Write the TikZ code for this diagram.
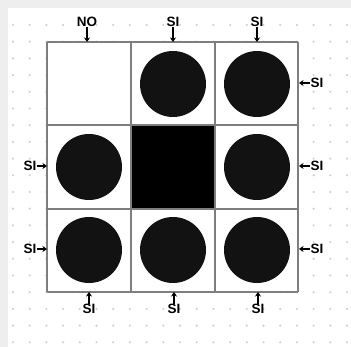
\documentclass[tikz,border=0pt]{standalone}
\usepackage{fontspec}
\setsansfont{Liberation Sans}
\usetikzlibrary{arrows.meta}
\definecolor{bggray}{HTML}{EEEEEE}
\definecolor{dotgray}{HTML}{D0D0D0}
\definecolor{linegray}{HTML}{7E7E7E}
\tikzset{
  lbl/.style={font=\sffamily\bfseries\fontsize{13.5}{13.5}\selectfont, inner sep=0.5pt},
  ptr/.style={-{Stealth[length=4.5pt,width=6pt]}, line width=1.5pt},
  cellline/.style={draw=linegray, line width=1.8pt},
  ball/.style={fill=black!93}
}
\begin{document}
\begin{tikzpicture}[x=1pt,y=-1pt]
    \useasboundingbox (0,0) rectangle (351,347);
    % background and dotted paper
    \fill[bggray] (0,0) rectangle (351,347);
    \fill[white] (8,8) rectangle (351,347);
    \foreach \i in {0,...,20}
      \foreach \j in {0,...,19}
        \fill[dotgray] (13+16.7*\i,25+16.7*\j) circle (1.2pt);
    % grid of cells
    \fill[white] (47,42) rectangle (298,292);
    \fill[black] (131,125) rectangle (215,209);
    \foreach \x in {47,131,215,298}
      \draw[cellline] (\x,42) -- (\x,292);
    \foreach \y in {42,125,209,292}
      \draw[cellline] (47,\y) -- (298,\y);
    % balls in the outer cells
    \foreach \cx/\cy in {173/84, 257/84, 89/167, 257/167, 89/250, 173/250, 257/250}
      \fill[ball] (\cx,\cy) circle (33);
    % top labels
    \node[lbl] (nTopA) at (87,22) {NO};
    \node[lbl] (nTopB) at (173,22) {SI};
    \node[lbl] (nTopC) at (257,22) {SI};
    \coordinate (eTopA) at (87,42);
    \coordinate (eTopB) at (173,42);
    \coordinate (eTopC) at (257,42);
    \draw[ptr] (nTopA) -- (eTopA);
    \draw[ptr] (nTopB) -- (eTopB);
    \draw[ptr] (nTopC) -- (eTopC);
    % right labels
    \node[lbl] (nRightA) at (317,83) {SI};
    \node[lbl] (nRightB) at (317,166) {SI};
    \node[lbl] (nRightC) at (317,249) {SI};
    \coordinate (eRightA) at (299,83);
    \coordinate (eRightB) at (299,166);
    \coordinate (eRightC) at (299,249);
    \draw[ptr] (nRightA) -- (eRightA);
    \draw[ptr] (nRightB) -- (eRightB);
    \draw[ptr] (nRightC) -- (eRightC);
    % left labels
    \node[lbl] (nLeftB) at (30,166) {SI};
    \node[lbl] (nLeftC) at (30,249) {SI};
    \coordinate (eLeftB) at (47,166);
    \coordinate (eLeftC) at (47,249);
    \draw[ptr] (nLeftB) -- (eLeftB);
    \draw[ptr] (nLeftC) -- (eLeftC);
    % bottom labels
    \node[lbl] (nBotA) at (89,309) {SI};
    \node[lbl] (nBotB) at (174,309) {SI};
    \node[lbl] (nBotC) at (258,309) {SI};
    \coordinate (eBotA) at (89,292);
    \coordinate (eBotB) at (174,292);
    \coordinate (eBotC) at (258,292);
    \draw[ptr] (nBotA) -- (eBotA);
    \draw[ptr] (nBotB) -- (eBotB);
    \draw[ptr] (nBotC) -- (eBotC);
\end{tikzpicture}
\end{document}
